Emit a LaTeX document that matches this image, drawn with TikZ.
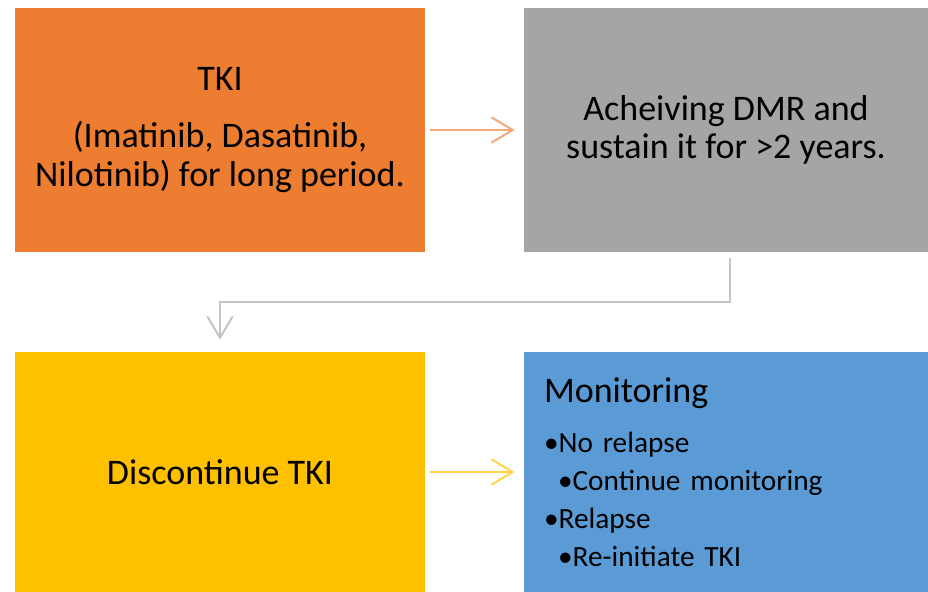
\documentclass[tikz,border=0pt]{standalone}
\usepackage{fontspec}
\setmainfont{Carlito}
\usepackage{xcolor}
\usepackage{tikz}
\usetikzlibrary{arrows.meta}
\usetikzlibrary{positioning}
\definecolor{tkiorange}{HTML}{ED7D31}
\definecolor{dmrgray}{HTML}{A5A5A5}
\definecolor{stopyellow}{HTML}{FFC000}
\definecolor{monblue}{HTML}{5B9BD5}
\definecolor{orangeline}{HTML}{F4A877}
\definecolor{grayline}{HTML}{C4C4C4}
\definecolor{yellowline}{HTML}{FFD34D}
\tikzset{>={Straight Barb[length=16pt, width=19pt, line width=1.5pt]}}
\tikzstyle{stage} = [rectangle, draw=none, align=center, inner sep=0, text=black, font=\fontsize{27}{29}\selectfont]
\tikzstyle{link} = [->, line width=1.6pt, shorten <=3.75pt, shorten >=6.75pt]

\begin{document}
\begin{tikzpicture}[x=0.75pt, y=-0.75pt]
\useasboundingbox (0,0) rectangle (928,592);
\node [stage, fill=tkiorange, minimum width=307.5pt, minimum height=183pt] (tki) at (220, 130) {TKI\\[14pt](Imatinib, Dasatinib,\\Nilotinib) for long period.};
\node [stage, fill=dmrgray, minimum width=303pt, minimum height=183pt] (dmr) at (726, 130) {Acheiving DMR and\\sustain it for >2 years.};
\node [stage, fill=stopyellow, minimum width=307.5pt, minimum height=180pt] (stop) at (220, 472) {Discontinue TKI};
\node [stage, fill=monblue, align=left, text width=273pt, inner xsep=15pt, minimum height=180pt, font=\fontsize{22}{28.5}\selectfont] (monitor) at (726, 472)
  {{\fontsize{27}{29}\selectfont Monitoring}\\[9pt]
   •No relapse\\
   \hspace*{10.5pt}•Continue monitoring\\
   •Relapse\\
   \hspace*{10.5pt}•Re-initiate TKI};
\draw [link, draw=orangeline] (tki) -- (dmr);
\draw [link, draw=grayline, line width=1.3pt, shorten <=4.5pt, shorten >=9pt] ([xshift=3pt]dmr.south) -- ++(0,50) -| (stop.north);
\draw [link, draw=yellowline] (stop) -- (monitor);
\end{tikzpicture}
\end{document}
